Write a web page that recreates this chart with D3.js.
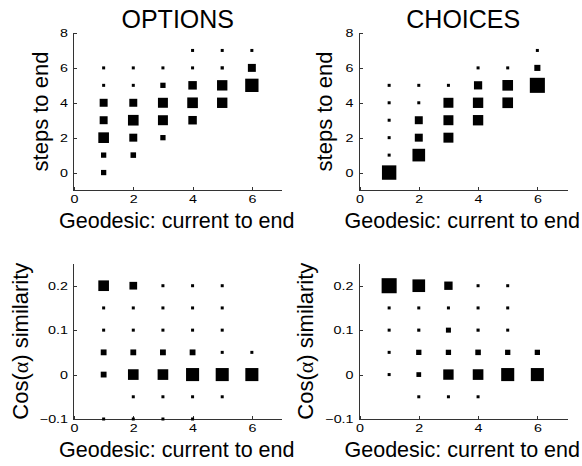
<!DOCTYPE html>
<meta charset="utf-8">
<style>
body { margin: 0; background: #fff; }
svg text { font-family: "Liberation Sans", Arial, sans-serif; fill: #000; }
.axis path, .axis line { fill: none; stroke: #333; shape-rendering: crispEdges; }
.axis text { font-size: 11px; }
</style>
<body>
<script src="https://d3js.org/d3.v7.min.js"></script>
<script>
// [geodesic distance, value, relative frequency]
var optionsSteps = [
  [1,0,.2],[1,1,.2],[1,2,.6],[1,3,.4],[1,4,.4],[1,5,.03],[1,6,.03],
  [2,1,.22],[2,2,.4],[2,3,.6],[2,4,.4],[2,5,.03],[2,6,.03],
  [3,2,.2],[3,3,.55],[3,4,.55],[3,5,.2],[3,6,.03],
  [4,3,.44],[4,4,.6],[4,5,.44],[4,6,.03],[4,7,.03],
  [5,4,.58],[5,5,.58],[5,6,.05],[5,7,.03],
  [6,5,.8],[6,6,.4],[6,7,.03]
];
var choicesSteps = [
  [1,0,.88],[1,1,.03],[1,2,.03],[1,3,.03],[1,4,.03],[1,5,.03],
  [2,1,.75],[2,2,.4],[2,3,.4],[2,4,.03],[2,5,.03],
  [3,2,.55],[3,3,.55],[3,4,.55],[3,5,.03],
  [4,3,.58],[4,4,.58],[4,5,.42],[4,6,.03],
  [5,4,.6],[5,5,.6],[5,6,.03],
  [6,5,.93],[6,6,.26],[6,7,.03]
];
var optionsCos = [
  [1,-.1,.03],[1,0,.24],[1,.05,.24],[1,.1,.03],[1,.15,.03],[1,.2,.6],
  [2,-.1,.03],[2,-.05,.03],[2,0,.6],[2,.05,.24],[2,.1,.03],[2,.15,.03],[2,.2,.38],
  [3,-.1,.03],[3,-.05,.03],[3,0,.6],[3,.05,.24],[3,.1,.03],[3,.15,.03],[3,.2,.03],
  [4,-.1,.03],[4,-.05,.03],[4,0,.78],[4,.05,.24],[4,.1,.03],[4,.15,.03],[4,.2,.03],
  [5,-.05,.03],[5,0,.78],[5,.05,.03],[5,.1,.03],[5,.15,.03],[5,.2,.03],
  [6,0,.78],[6,.05,.03]
];
var choicesCos = [
  [1,0,.03],[1,.05,.03],[1,.1,.03],[1,.15,.03],[1,.2,.93],
  [2,-.05,.03],[2,0,.16],[2,.05,.2],[2,.1,.04],[2,.15,.03],[2,.2,.75],
  [3,-.05,.03],[3,0,.58],[3,.05,.2],[3,.1,.18],[3,.15,.03],[3,.2,.43],
  [4,-.05,.03],[4,0,.6],[4,.05,.22],[4,.1,.04],[4,.15,.03],[4,.2,.03],
  [5,0,.78],[5,.05,.2],[5,.1,.03],[5,.15,.03],[5,.2,.03],
  [6,0,.78],[6,.05,.2]
];

var xTicks = [0, 2, 4, 6];
var stepTicks = [0, 2, 4, 6, 8];
var cosTicks = [-0.1, 0, 0.1, 0.2];
var titles = ["OPTIONS", "CHOICES"];
var xLabel = "Geodesic: current to end";

var svg = d3.select("body").append("svg")
    .attr("width", 582)
    .attr("height", 466);

var side = d3.scaleLinear().domain([0, 1]).range([2.6, 16]);
var cosFmt = function(d) { return d === 0 ? "0" : d3.format(".1f")(d); };

var panels = [
  {data: optionsSteps, left: 74,  top: 33,    bottom: 190, yDomain: [-1, 8],      yTicks: stepTicks, fmt: d3.format("d"), title: titles[0], ylab: "steps", labX: 48},
  {data: choicesSteps, left: 359.5, top: 33,  bottom: 190, yDomain: [-1, 8],      yTicks: stepTicks, fmt: d3.format("d"), title: titles[1], ylab: "steps", labX: 332},
  {data: optionsCos,   left: 74,  top: 263.5, bottom: 419, yDomain: [-0.1, 0.25], yTicks: cosTicks,  fmt: cosFmt, ylab: "cos", labX: 28},
  {data: choicesCos,   left: 359.5, top: 263.5, bottom: 419, yDomain: [-0.1, 0.25], yTicks: cosTicks, fmt: cosFmt, ylab: "cos", labX: 313}
];

panels.forEach(function(p) {
  var x = d3.scaleLinear().domain([0, 7]).range([p.left, p.left + 207.5]);
  var y = d3.scaleLinear().domain(p.yDomain).range([p.bottom, p.top]);
  var g = svg.append("g");

  // tick labels in the original are noticeably wide, so stretch them a bit
  g.append("g")
      .attr("class", "axis")
      .attr("transform", "translate(0," + p.bottom + ")")
      .call(d3.axisBottom(x).tickValues(xTicks).tickFormat(d3.format("d")).tickSizeInner(-3).tickSizeOuter(0).tickPadding(5))
    .call(function(a) { a.select(".domain").attr("d", "M" + (p.left - 0.5) + ",0.5H" + (x(7) + 0.5)); })
    .selectAll("text")
      .attr("dy", "0.75em")
      .attr("transform", "scale(1.3,1)");

  g.append("g")
      .attr("class", "axis")
      .attr("transform", "translate(" + p.left + ",0)")
      .call(d3.axisLeft(y).tickValues(p.yTicks).tickFormat(p.fmt).tickSizeInner(-3).tickSizeOuter(0).tickPadding(6))
    .call(function(a) { a.select(".domain").attr("d", "M-0.5," + (p.bottom + 0.5) + "V" + p.top); })
    .selectAll("text")
      .attr("x", 0)
      .attr("transform", "translate(-6,0) scale(1.3,1)");

  g.selectAll("rect.m")
      .data(p.data)
    .enter().append("rect")
      .attr("class", "m")
      .attr("x", function(d) { return x(d[0]) - side(d[2]) / 2; })
      .attr("y", function(d) { return y(d[1]) - side(d[2]) / 2; })
      .attr("width", function(d) { return side(d[2]); })
      .attr("height", function(d) { return side(d[2]); })
      .attr("fill", "#000");

  var cx = (x(0) + x(7)) / 2;
  if (p.title) {
    g.append("text")
        .attr("x", cx)
        .attr("y", 28)
        .attr("text-anchor", "middle")
        .style("font-size", "25px")
        .text(p.title);
  }

  g.append("text")
      .attr("x", cx - 1)
      .attr("y", p.bottom + 38)
      .attr("text-anchor", "middle")
      .style("font-size", "21.5px")
      .text(xLabel);

  var yl = g.append("text")
      .attr("transform", "translate(" + p.labX + "," + ((p.top + p.bottom) / 2) + ") rotate(-90)")
      .attr("text-anchor", "middle")
      .style("font-size", "22px");
  if (p.ylab === "steps") {
    yl.text("steps to end");
  } else {
    yl.append("tspan").text("Cos(");
    yl.append("tspan").style("font-family", "'Liberation Serif', serif").text("α");
    yl.append("tspan").text(") similarity");
  }
});
</script>
</body>
